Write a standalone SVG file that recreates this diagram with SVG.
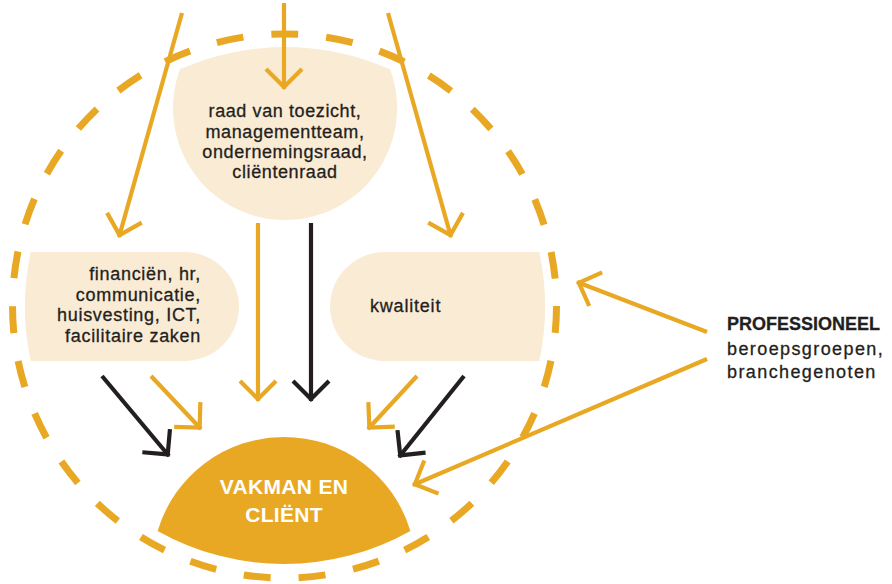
<svg xmlns="http://www.w3.org/2000/svg" width="892" height="584" viewBox="0 0 892 584">
<style>
.or{fill:none;stroke:#E9A823;stroke-width:4.2}
.bk{fill:none;stroke:#231F20;stroke-width:4.2}
.cream{fill:#FAEBD5}
.t{font-family:"Liberation Sans",Arial,sans-serif;font-size:18px;fill:#231F20;stroke:#231F20;stroke-width:0.3}
.w{font-family:"Liberation Sans",Arial,sans-serif;font-size:21px;font-weight:bold;fill:#FFFFFF;letter-spacing:0.3px}
</style>
<defs>
<marker id="mo" markerUnits="userSpaceOnUse" orient="auto" overflow="visible" markerWidth="1" markerHeight="1" refX="0" refY="0">
<path d="M -20 -18 L -2 0 L -20 18" fill="none" stroke="#E9A823" stroke-width="4.2"/>
</marker>
<marker id="mb" markerUnits="userSpaceOnUse" orient="auto" overflow="visible" markerWidth="1" markerHeight="1" refX="0" refY="0">
<path d="M -20 -18 L -2 0 L -20 18" fill="none" stroke="#231F20" stroke-width="4.2"/>
</marker>
</defs>
<rect width="892" height="584" fill="#FFFFFF"/>
<circle id="boundary" cx="284.5" cy="306" r="272" fill="none" stroke="#E9A823" stroke-width="7" stroke-dasharray="27 28.13"/>
<g id="node-top">
<path class="cream" d="M 179.9 69.3 A 259 259 0 0 1 390.1 69.3 A 112 112 0 1 1 179.9 69.3 Z"/>
<text class="t" text-anchor="middle" style="letter-spacing:0.6px"><tspan x="285" y="117">raad van toezicht,</tspan><tspan x="285" y="137.5">managementteam,</tspan><tspan x="285" y="158">ondernemingsraad,</tspan><tspan x="285" y="178">cliëntenraad</tspan></text>
</g>
<g id="node-left">
<path class="cream" d="M 30.7 252 L 184.5 252 A 54.5 54.5 0 0 1 184.5 361 L 30.7 361 A 260 260 0 0 1 30.7 252 Z"/>
<text class="t" text-anchor="end" style="letter-spacing:0.7px"><tspan x="201" y="280">financiën, hr,</tspan><tspan x="201" y="300.5">communicatie,</tspan><tspan x="201" y="321">huisvesting, ICT,</tspan><tspan x="201" y="341.5">facilitaire zaken</tspan></text>
</g>
<g id="node-right">
<path class="cream" d="M 384.5 252 L 539.3 252 A 260 260 0 0 1 539.3 361 L 384.5 361 A 54.5 54.5 0 0 1 384.5 252 Z"/>
<text class="t" x="370" y="312" style="letter-spacing:0.8px">kwaliteit</text>
</g>
<g id="node-center">
<path d="M 157.6 530.9 A 132 132 0 0 1 410.4 530.9 A 258 258 0 0 1 157.6 530.9 Z" fill="#E9A823"/>
<text class="w" text-anchor="middle"><tspan x="284" y="494">VAKMAN EN</tspan><tspan x="284" y="522">CLIËNT</tspan></text>
</g>
<g id="node-professioneel">
<text class="t" x="727" y="330" font-weight="bold">PROFESSIONEEL</text>
<text class="t" style="letter-spacing:1.4px"><tspan x="727" y="355">beroepsgroepen,</tspan><tspan x="727" y="378">branchegenoten</tspan></text>
</g>
<g id="connectors">
<line class="or" x1="284" y1="3" x2="284" y2="89" marker-end="url(#mo)"/>
<line class="or" x1="182" y1="13" x2="119" y2="237" marker-end="url(#mo)"/>
<line class="or" x1="388" y1="13" x2="451" y2="237" marker-end="url(#mo)"/>
<line class="or" x1="258" y1="223" x2="258" y2="401" marker-end="url(#mo)"/>
<line class="or" x1="151" y1="376" x2="201" y2="429" marker-end="url(#mo)"/>
<line class="or" x1="417" y1="376" x2="368" y2="429" marker-end="url(#mo)"/>
<line class="or" x1="707" y1="332" x2="577" y2="282" marker-end="url(#mo)"/>
<line class="or" x1="707" y1="359" x2="413" y2="485" marker-end="url(#mo)"/>
<line class="bk" x1="311" y1="223" x2="311" y2="401" marker-end="url(#mb)"/>
<line class="bk" x1="102" y1="376" x2="169" y2="456" marker-end="url(#mb)"/>
<line class="bk" x1="464" y1="376" x2="399" y2="457" marker-end="url(#mb)"/>
</g>
</svg>
